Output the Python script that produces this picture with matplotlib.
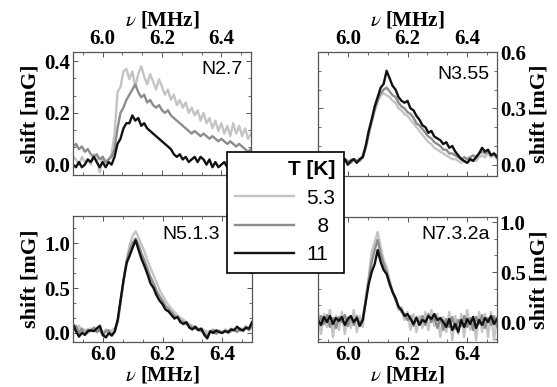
import numpy as np
import matplotlib
matplotlib.use("Agg")
import matplotlib.pyplot as plt
from matplotlib.ticker import MultipleLocator, AutoMinorLocator
from matplotlib.lines import Line2D

plt.rcParams["mathtext.fontset"] = "stix"

# frequency grid (MHz)
freq = np.linspace(5.90, 6.50, 61)

temps = ["5.3", "8", "11"]
colors = ["#c4c4c4", "#8c8c8c", "#111111"]

# N2.7
n27_53 = [0.03, 0.02, 0.00, 0.03, 0.01, 0.02, 0.00, 0.04, 0.02, -0.03, 0.03, 0.01, 0.02, 0.04, 0.12,
          0.28, 0.30, 0.36, 0.37, 0.33, 0.36, 0.30, 0.35, 0.38, 0.34, 0.31, 0.35, 0.32, 0.29, 0.33,
          0.30, 0.27, 0.29, 0.25, 0.27, 0.23, 0.25, 0.22, 0.24, 0.20, 0.22, 0.19, 0.21, 0.17, 0.20,
          0.16, 0.18, 0.14, 0.17, 0.13, 0.16, 0.12, 0.15, 0.11, 0.16, 0.12, 0.15, 0.11, 0.14, 0.10, 0.12]
n27_8 = [0.07, 0.08, 0.06, 0.07, 0.05, 0.06, 0.04, 0.03, 0.04, 0.02, 0.03, 0.01, 0.02, 0.03, 0.06,
         0.14, 0.20, 0.22, 0.25, 0.27, 0.29, 0.31, 0.28, 0.26, 0.27, 0.24, 0.25, 0.23, 0.22, 0.23,
         0.21, 0.20, 0.21, 0.19, 0.18, 0.17, 0.16, 0.15, 0.14, 0.13, 0.12, 0.13, 0.12, 0.11, 0.12,
         0.11, 0.10, 0.11, 0.10, 0.09, 0.10, 0.09, 0.08, 0.09, 0.08, 0.07, 0.08, 0.07, 0.06, 0.05, 0.06]
n27_11 = [0.00, -0.01, 0.01, -0.01, 0.00, 0.02, 0.01, 0.03, 0.01, -0.01, 0.01, -0.01, 0.01, 0.00, 0.03,
          0.08, 0.10, 0.14, 0.16, 0.16, 0.19, 0.17, 0.18, 0.15, 0.16, 0.14, 0.13, 0.12, 0.11, 0.10,
          0.09, 0.08, 0.07, 0.06, 0.04, 0.03, 0.04, 0.02, 0.03, 0.01, 0.02, 0.03, 0.01, 0.03, 0.02,
          0.00, 0.02, -0.01, 0.01, -0.01, 0.00, 0.01, -0.01, 0.00, 0.01, 0.00, 0.01, 0.00, -0.01, 0.00, 0.01]

# N3.55
n355_53 = [0.02, 0.00, 0.03, 0.01, 0.02, 0.03, 0.01, 0.03, 0.00, 0.02, 0.01, 0.03, 0.02, 0.02, 0.03,
           0.05, 0.10, 0.17, 0.24, 0.30, 0.34, 0.37, 0.38, 0.37, 0.36, 0.34, 0.33, 0.30, 0.29, 0.27,
           0.26, 0.24, 0.22, 0.20, 0.18, 0.16, 0.14, 0.12, 0.11, 0.09, 0.08, 0.07, 0.06, 0.05, 0.04,
           0.03, 0.03, 0.02, 0.01, 0.02, 0.01, 0.02, 0.03, 0.02, 0.04, 0.05, 0.04, 0.06, 0.04, 0.05, 0.03]
n355_8 = [0.03, 0.01, 0.02, 0.00, 0.03, 0.02, 0.00, 0.02, 0.01, 0.03, 0.02, 0.01, 0.03, 0.02, 0.02,
          0.04, 0.09, 0.16, 0.23, 0.29, 0.34, 0.38, 0.40, 0.41, 0.39, 0.37, 0.36, 0.33, 0.31, 0.30,
          0.28, 0.27, 0.25, 0.22, 0.21, 0.19, 0.17, 0.15, 0.14, 0.12, 0.11, 0.10, 0.08, 0.08, 0.06,
          0.06, 0.05, 0.04, 0.03, 0.04, 0.03, 0.04, 0.05, 0.04, 0.06, 0.07, 0.06, 0.07, 0.05, 0.06, 0.05]
n355_11 = [0.01, -0.01, 0.02, 0.00, 0.02, 0.01, -0.01, 0.02, 0.01, 0.03, 0.00, 0.02, 0.03, 0.01, 0.03,
           0.04, 0.10, 0.18, 0.24, 0.31, 0.36, 0.41, 0.43, 0.50, 0.46, 0.42, 0.40, 0.36, 0.34, 0.33,
           0.34, 0.30, 0.29, 0.26, 0.24, 0.21, 0.20, 0.17, 0.18, 0.15, 0.14, 0.13, 0.11, 0.12, 0.09,
           0.10, 0.07, 0.05, 0.03, 0.02, 0.01, 0.03, 0.02, 0.04, 0.06, 0.09, 0.07, 0.08, 0.05, 0.06, 0.04]

# N5.1.3
n513_53 = [0.06, 0.02, 0.08, 0.01, 0.04, 0.00, 0.05, 0.03, 0.06, 0.02, 0.00, 0.04, 0.01, 0.03, 0.05,
           0.12, 0.35, 0.60, 0.82, 0.98, 1.08, 1.13, 1.06, 0.98, 0.90, 0.80, 0.72, 0.64, 0.56, 0.48,
           0.42, 0.36, 0.31, 0.27, 0.23, 0.20, 0.17, 0.15, 0.12, 0.10, 0.08, 0.07, 0.05, 0.04, 0.03,
           0.01, 0.02, 0.04, 0.01, 0.03, 0.00, 0.04, 0.02, 0.05, 0.03, 0.06, 0.02, 0.05, 0.08, 0.04, 0.10]
n513_8 = [0.04, 0.08, 0.00, 0.05, -0.02, 0.04, 0.02, 0.06, 0.01, 0.04, -0.03, 0.02, 0.03, -0.02, 0.01,
          0.13, 0.36, 0.59, 0.80, 0.92, 1.00, 1.05, 0.98, 0.88, 0.80, 0.71, 0.62, 0.55, 0.47, 0.41,
          0.36, 0.30, 0.27, 0.23, 0.19, 0.17, 0.14, 0.12, 0.10, 0.08, 0.06, 0.05, 0.04, 0.02, 0.00,
          -0.03, 0.01, 0.03, -0.01, 0.02, 0.01, 0.03, 0.00, 0.02, 0.04, 0.01, 0.05, 0.02, 0.06, 0.03, 0.08]
n513_11 = [0.10, 0.02, -0.04, 0.00, -0.02, 0.02, 0.03, 0.02, 0.05, 0.08, -0.02, -0.05, 0.00, -0.03, 0.02,
           0.15, 0.38, 0.60, 0.78, 0.86, 0.95, 1.03, 0.92, 0.82, 0.74, 0.65, 0.55, 0.50, 0.42, 0.36,
           0.32, 0.26, 0.24, 0.20, 0.16, 0.18, 0.12, 0.10, 0.12, 0.06, 0.04, 0.07, 0.03, 0.05, -0.02,
           -0.06, 0.02, 0.00, 0.03, 0.01, 0.00, 0.02, 0.01, 0.04, 0.03, 0.07, 0.04, 0.03, 0.06, 0.05, 0.12]

# N7.3.2a
n732_53 = [0.10, -0.12, 0.08, -0.05, 0.12, -0.15, 0.06, -0.08, 0.10, -0.12, 0.05, -0.06, 0.12, -0.10, 0.06,
           -0.05, 0.25, 0.45, 0.70, 0.80, 0.90, 0.75, 0.62, 0.55, 0.42, 0.30, 0.22, 0.12, 0.15, 0.02,
           0.10, -0.08, 0.08, -0.10, 0.06, -0.06, 0.10, -0.08, 0.12, -0.04, 0.08, -0.15, 0.05, -0.10, 0.10,
           -0.18, 0.06, -0.12, 0.08, -0.15, 0.12, -0.08, 0.05, -0.18, 0.10, -0.10, 0.08, -0.15, 0.10, -0.18, 0.05]
n732_8 = [-0.04, 0.06, -0.02, 0.07, -0.05, 0.04, -0.06, 0.05, 0.00, 0.07, -0.04, 0.05, -0.03, 0.06, -0.02,
          0.03, 0.22, 0.42, 0.60, 0.72, 0.82, 0.68, 0.58, 0.50, 0.40, 0.30, 0.22, 0.16, 0.10, 0.08,
          0.02, 0.06, -0.04, 0.05, -0.02, 0.06, -0.03, 0.08, 0.00, 0.05, -0.06, 0.04, -0.08, 0.03, -0.05,
          0.05, -0.07, 0.02, -0.04, 0.06, -0.05, 0.04, -0.08, 0.05, -0.02, 0.07, -0.06, 0.04, -0.03, 0.06, -0.04]
n732_11 = [0.02, -0.03, 0.05, 0.00, 0.06, -0.02, 0.04, 0.01, 0.05, -0.03, 0.03, 0.06, 0.00, 0.04, -0.04,
           0.02, 0.20, 0.38, 0.50, 0.58, 0.72, 0.60, 0.52, 0.48, 0.38, 0.30, 0.24, 0.15, 0.12, 0.06,
           0.08, 0.03, -0.02, 0.04, -0.03, 0.02, 0.00, 0.06, 0.03, 0.08, 0.02, 0.04, 0.00, -0.05, 0.03,
           -0.08, -0.02, -0.10, 0.02, -0.05, 0.03, -0.02, 0.05, -0.06, 0.02, -0.03, 0.04, 0.00, 0.06, -0.02, 0.03]

panels = [
    ("N2.7", [n27_53, n27_8, n27_11], (-0.04, 0.435), [0.0, 0.2, 0.4]),
    ("N3.55", [n355_53, n355_8, n355_11], (-0.06, 0.6), [0.0, 0.3, 0.6]),
    ("N5.1.3", [n513_53, n513_8, n513_11], (-0.1, 1.3), [0.0, 0.5, 1.0]),
    ("N7.3.2a", [n732_53, n732_8, n732_11], (-0.2, 1.05), [0.0, 0.5, 1.0]),
]

W, H = 557, 387
# axes boxes in pixels: left, top, right, bottom
boxes = [(73, 52, 251, 175), (318, 52, 497, 176), (73, 216, 252, 342), (318, 217, 497, 342)]
name_pos = [(0.955, 0.86), (0.96, 0.82), (0.82, 0.85), (0.96, 0.86)]

serif = "Liberation Serif"
sans = "Liberation Sans"
spine_col = "#555555"

fig = plt.figure(figsize=(W / 100, H / 100), dpi=100)

for k, (name, series, ylim, yticks) in enumerate(panels):
    l, t, r, b = boxes[k]
    ax = fig.add_axes([l / W, 1 - b / H, (r - l) / W, (b - t) / H])
    for ys, c in zip(series, colors):
        ax.plot(freq, ys, color=c, lw=1.7)
    ax.set_xlim(5.9, 6.5)
    ax.set_ylim(*ylim)
    ax.set_xticks([6.0, 6.2, 6.4])
    ax.xaxis.set_minor_locator(MultipleLocator(0.2 / 3))
    ax.set_yticks(yticks)
    ax.yaxis.set_minor_locator(AutoMinorLocator(3))
    ax.set_xticklabels(["6.0", "6.2", "6.4"])
    ax.set_yticklabels(["%.1f" % v for v in yticks])
    for s in ax.spines.values():
        s.set_color(spine_col)
        s.set_linewidth(0.9)
    top = k < 2
    right = k % 2 == 1
    ax.tick_params(which="both", direction="in", color=spine_col, top=True, bottom=True,
                   left=True, right=True, labeltop=top, labelbottom=not top,
                   labelleft=not right, labelright=right)
    ax.tick_params(which="major", length=3.5, width=0.7, pad=2)
    ax.tick_params(which="minor", length=2, width=0.6)
    for lab in ax.get_xticklabels() + ax.get_yticklabels():
        lab.set_fontfamily(serif)
        lab.set_fontweight("bold")
        lab.set_fontsize(15)
    ax.set_xlabel(r"$\nu$ [MHz]", fontfamily=serif, fontweight="bold", fontsize=15,
                  labelpad=2.5 if top else 0)
    ax.set_ylabel("shift [mG]", fontfamily=serif, fontweight="bold", fontsize=16, labelpad=3)
    if top:
        ax.xaxis.set_label_position("top")
    if right:
        ax.yaxis.set_label_position("right")
    ax.text(name_pos[k][0], name_pos[k][1], name, transform=ax.transAxes, ha="right",
            va="center", fontfamily=sans, fontsize=14)

handles = [Line2D([], [], color=c, lw=1.7) for c in colors]
labels = ["5.3", "  8", "11"]
leg = fig.legend(handles, labels, title="T [K]", loc="upper left",
                 bbox_to_anchor=(227 / W, 1 - 152 / H), borderaxespad=0,
                 prop={"family": sans, "size": 15},
                 title_fontproperties={"family": sans, "size": 15, "weight": "bold"},
                 alignment="right", fancybox=False, framealpha=1, edgecolor="black",
                 handlelength=2.8, handletextpad=0.6, labelspacing=0.45, borderpad=0.4)
leg.get_frame().set_linewidth(1.2)

fig.savefig("out.png", dpi=100)
